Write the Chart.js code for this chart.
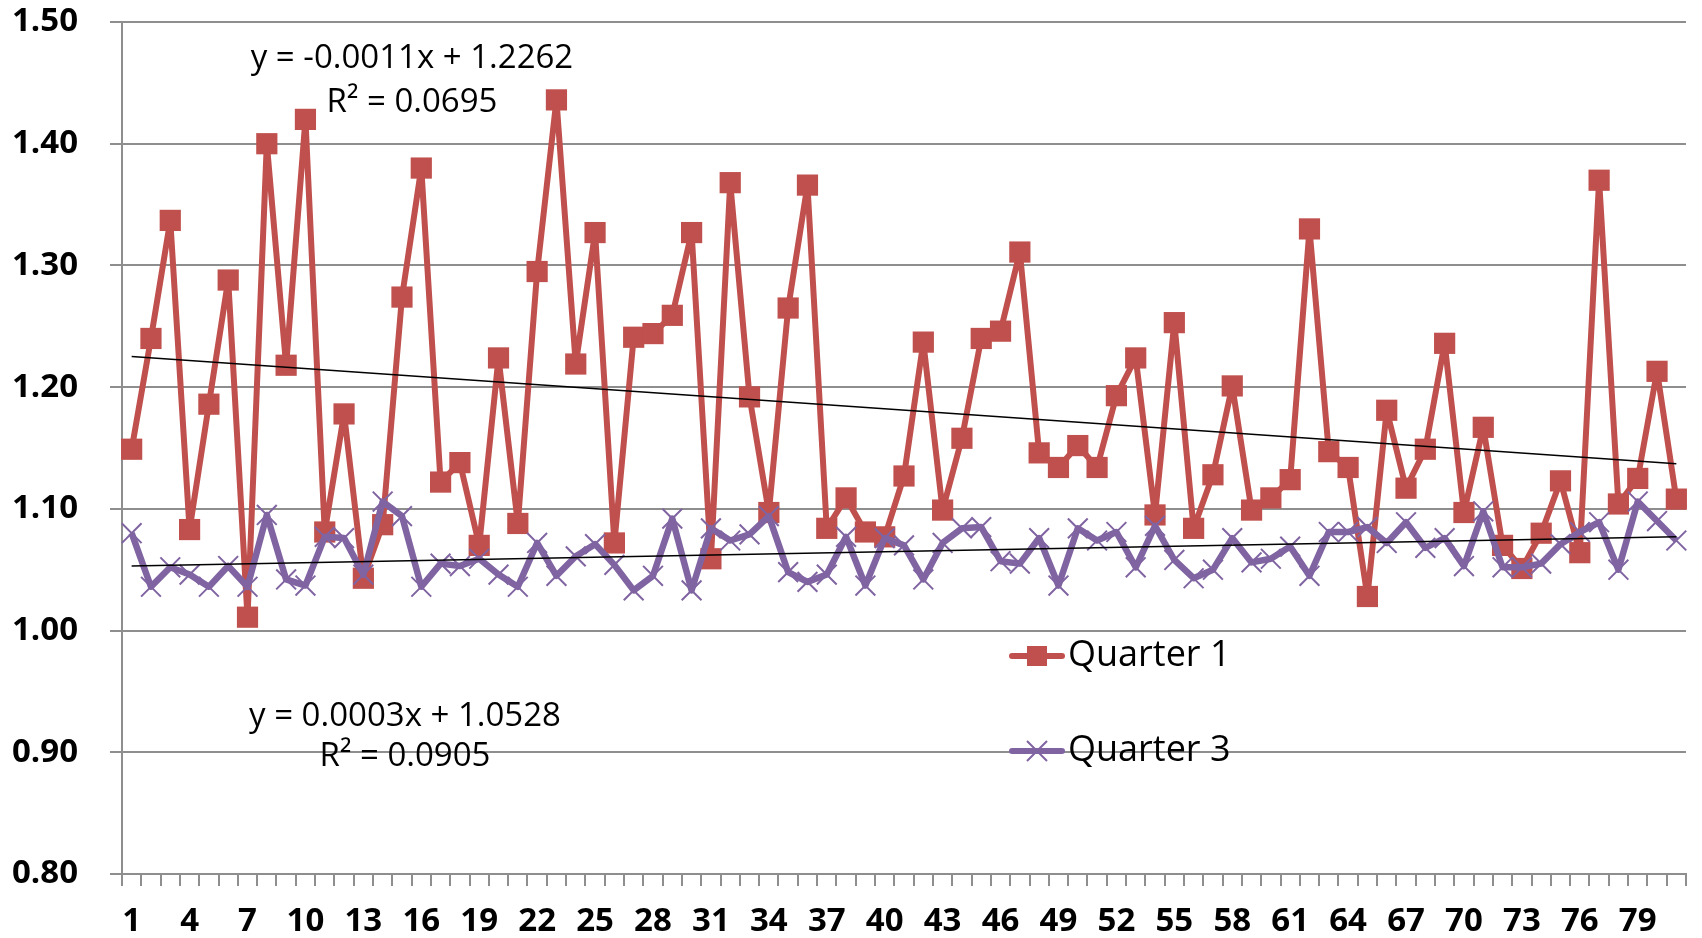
<!DOCTYPE html>
<html>
<head>
<meta charset="utf-8">
<script src="https://cdn.jsdelivr.net/npm/chart.js@4.4.1/dist/chart.umd.min.js"></script>
<style>
  html, body { margin: 0; padding: 0; background: #fff; }
  #wrap { width: 1702px; height: 938px; }
</style>
</head>
<body>
<div id="wrap"><canvas id="chart" width="1702" height="938"></canvas></div>
<script>
// categories 1..81
const categories = Array.from({ length: 81 }, (_, i) => String(i + 1));
const tickLabels = ["1","4","7","10","13","16","19","22","25","28","31","34","37","40",
  "43","46","49","52","55","58","61","64","67","70","73","76","79"];

const quarter1 = [
  1.149, 1.240, 1.337, 1.083, 1.186, 1.288, 1.011, 1.400, 1.218, 1.420,
  1.081, 1.178, 1.043, 1.087, 1.274, 1.380, 1.122, 1.138, 1.070, 1.224,
  1.088, 1.295, 1.436, 1.219, 1.327, 1.072, 1.241, 1.244, 1.259, 1.327,
  1.059, 1.368, 1.192, 1.097, 1.265, 1.366, 1.084, 1.109, 1.081, 1.077,
  1.127, 1.237, 1.099, 1.158, 1.240, 1.246, 1.311, 1.146, 1.134, 1.152,
  1.134, 1.193, 1.224, 1.095, 1.253, 1.084, 1.128, 1.201, 1.099, 1.109,
  1.124, 1.330, 1.147, 1.134, 1.028, 1.181, 1.117, 1.149, 1.236, 1.097,
  1.167, 1.070, 1.051, 1.080, 1.123, 1.064, 1.370, 1.104, 1.125, 1.213,
  1.108
];

const quarter3 = [
  1.080, 1.036, 1.052, 1.046, 1.036, 1.053, 1.036, 1.095, 1.042, 1.037,
  1.077, 1.076, 1.046, 1.106, 1.094, 1.036, 1.055, 1.053, 1.059, 1.046,
  1.036, 1.072, 1.045, 1.061, 1.071, 1.054, 1.033, 1.045, 1.092, 1.033,
  1.084, 1.074, 1.079, 1.094, 1.048, 1.040, 1.046, 1.077, 1.037, 1.076,
  1.070, 1.042, 1.072, 1.084, 1.085, 1.057, 1.055, 1.076, 1.037, 1.084,
  1.074, 1.081, 1.052, 1.086, 1.058, 1.043, 1.050, 1.076, 1.056, 1.059,
  1.069, 1.045, 1.081, 1.081, 1.085, 1.072, 1.089, 1.068, 1.076, 1.053,
  1.098, 1.052, 1.052, 1.055, 1.071, 1.081, 1.089, 1.050, 1.106, 1.090,
  1.074
];

// linear trend equations as printed on the chart
const q1Slope = -0.0011, q1Intercept = 1.2262;
const q3Slope = 0.0003, q3Intercept = 1.0528;

const RED = "#C0504D";
const PURPLE = "#8064A2";
const GRID = "#8e8e8e";

// trendline: only first and last point, joined across the gaps
function trend(slope, intercept) {
  const last = categories.length - 1;
  return categories.map((c, i) => (i === 0 || i === last) ? slope * (i + 1) + intercept : null);
}

// equation texts + legend, drawn on top of the plot
const overlay = {
  id: "overlay",
  afterDatasetsDraw(chart) {
    const ctx = chart.ctx;
    ctx.save();
    ctx.fillStyle = "#000";
    ctx.font = '33px "Open Sans"';
    ctx.textAlign = "center";
    ctx.textBaseline = "middle";
    ctx.fillText("y = -0.0011x + 1.2262", 412, 59);
    ctx.fillText("R² = 0.0695", 412, 103);
    ctx.fillText("y = 0.0003x + 1.0528", 405, 717);
    ctx.fillText("R² = 0.0905", 405, 757);

    // legend
    ctx.font = '36px "Open Sans"';
    const items = [
      { label: "Quarter 1", color: RED, y: 656, marker: "rect" },
      { label: "Quarter 3", color: PURPLE, y: 751, marker: "cross" }
    ];
    items.forEach(it => {
      ctx.strokeStyle = it.color;
      ctx.lineWidth = 6;
      ctx.lineCap = "round";
      ctx.beginPath();
      ctx.moveTo(1012, it.y);
      ctx.lineTo(1062, it.y);
      ctx.stroke();
      if (it.marker === "rect") {
        ctx.fillStyle = it.color;
        ctx.fillRect(1027, it.y - 10, 20, 20);
      } else {
        ctx.lineWidth = 2;
        ctx.lineCap = "butt";
        ctx.beginPath();
        ctx.moveTo(1027, it.y - 10); ctx.lineTo(1047, it.y + 10);
        ctx.moveTo(1047, it.y - 10); ctx.lineTo(1027, it.y + 10);
        ctx.stroke();
      }
      ctx.fillStyle = "#000";
      ctx.textAlign = "left";
      ctx.fillText(it.label, 1068, it.y);
    });
    ctx.restore();
  }
};

const ctx = document.getElementById("chart").getContext("2d");

new Chart(ctx, {
  type: "line",
  data: {
    labels: categories,
    datasets: [
      {
        label: "Quarter 1 trend",
        data: trend(q1Slope, q1Intercept),
        borderColor: "#000",
        borderWidth: 1.5,
        pointRadius: 0,
        spanGaps: true,
        order: 0
      },
      {
        label: "Quarter 3 trend",
        data: trend(q3Slope, q3Intercept),
        borderColor: "#000",
        borderWidth: 1.5,
        pointRadius: 0,
        spanGaps: true,
        order: 0
      },
      {
        label: "Quarter 3",
        data: quarter3,
        borderColor: PURPLE,
        borderWidth: 6.5,
        borderJoinStyle: "round",
        pointStyle: "crossRot",
        pointRadius: 14,
        pointBorderWidth: 2,
        pointBorderColor: PURPLE,
        pointBackgroundColor: PURPLE,
        tension: 0,
        order: 1
      },
      {
        label: "Quarter 1",
        data: quarter1,
        borderColor: RED,
        borderWidth: 6,
        borderJoinStyle: "round",
        pointStyle: "rect",
        pointRadius: 15,
        pointBorderWidth: 0,
        pointBackgroundColor: RED,
        pointBorderColor: RED,
        tension: 0,
        order: 2
      }
    ]
  },
  options: {
    responsive: false,
    animation: false,
    layout: { padding: { top: 22, right: 13, left: 0, bottom: 0 } },
    plugins: {
      legend: { display: false },
      tooltip: { enabled: false }
    },
    scales: {
      x: {
        type: "category",
        offset: true,
        afterFit: s => { s.height = 64; s.paddingLeft = 0; s.paddingRight = 0; },
        grid: { offset: true, drawOnChartArea: false, tickLength: 12, color: GRID, lineWidth: 2 },
        border: { color: GRID, width: 2 },
        ticks: {
          autoSkip: false,
          maxRotation: 0,
          minRotation: 0,
          padding: 16,
          color: "#000",
          font: { family: "Open Sans", weight: "bold", size: 33 },
          callback: function (v, i) {
            const l = categories[i];
            return tickLabels.includes(l) ? l : "";
          }
        }
      },
      y: {
        min: 0.8,
        max: 1.5,
        afterFit: s => { s.width = 122; s.paddingTop = 0; s.paddingBottom = 0; },
        grid: { color: GRID, lineWidth: 2, tickLength: 12 },
        border: { color: GRID, width: 2 },
        ticks: {
          stepSize: 0.1,
          padding: 32,
          color: "#000",
          font: { family: "Open Sans", weight: "bold", size: 33 },
          callback: v => Number(v).toFixed(2)
        }
      }
    }
  },
  plugins: [overlay]
});
</script>
</body>
</html>
